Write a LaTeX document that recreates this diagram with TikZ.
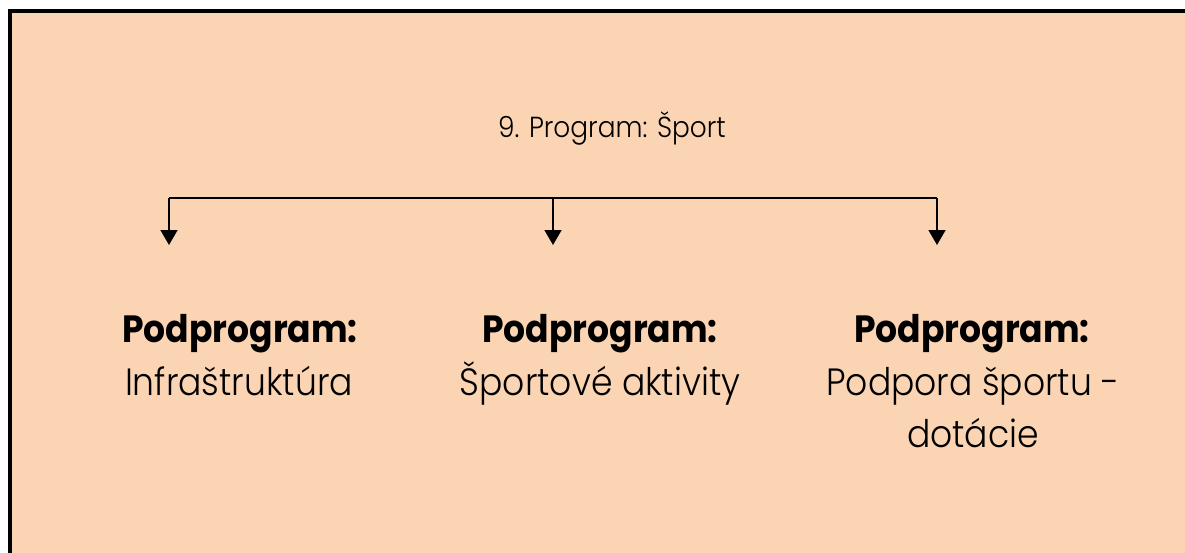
\documentclass[tikz,border=0pt]{standalone}
\usepackage{fontspec}
\setmainfont{Poppins}[UprightFont=* Light,BoldFont=* Bold,FakeStretch=0.91]
\usetikzlibrary{arrows.meta}
\definecolor{peach}{HTML}{FBD4B4}
\begin{document}
\begin{tikzpicture}[x=1pt,y=-1pt,
  titlebox/.style={anchor=base,inner sep=0pt,font=\fontsize{29}{34}\selectfont},
  head/.style={anchor=base,inner sep=0pt,font=\fontsize{38}{52}\selectfont\bfseries},
  desc/.style={anchor=base,inner sep=0pt,align=center,font=\fontsize{38}{52}\selectfont},
  conn/.style={line width=1.5pt},
  arr/.style={line width=1.5pt,-{Triangle[width=17pt,length=15pt]}}]
\useasboundingbox (0,0) rectangle (1185,552);
\fill[peach] (10,11) rectangle (1190,560);
\draw[line width=4pt,line join=miter] (10,560) -- (10,11) -- (1190,11);

\node[titlebox] (title) at (612,137) {9. Program: Šport};

\coordinate (bl) at (169,198);
\coordinate (bm) at (553,198);
\coordinate (br) at (937,198);
\coordinate (tl) at (169,245);
\coordinate (tm) at (553,245);
\coordinate (tr) at (937,245);

\draw[conn] (bl) -- (br);
\draw[arr] (bl) -- (tl);
\draw[arr] (bm) -- (tm);
\draw[arr] (br) -- (tr);

\node[head] (h1) at (240,342) {Podprogram:};
\node[head] (h2) at (600,342) {Podprogram:};
\node[head] (h3) at (972,342) {Podprogram:};
\node[desc] (d1) at (239,395) {Infraštruktúra};
\node[desc] (d2) at (600,395) {Športové aktivity};
\node[desc] (d3) at (973,447) {Podpora športu -\\dotácie};
\end{tikzpicture}
\end{document}
